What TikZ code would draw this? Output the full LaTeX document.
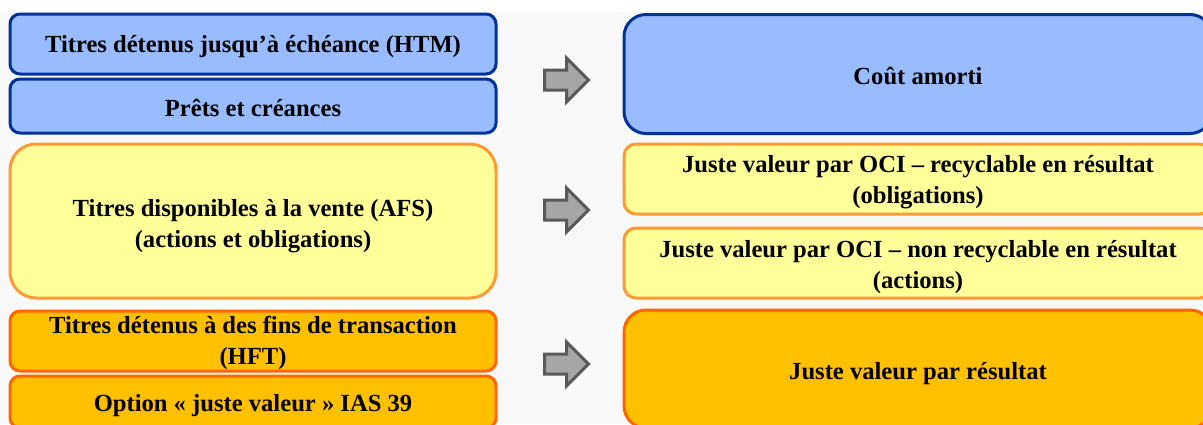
\documentclass[tikz,border=0pt]{standalone}
\usepackage{fontspec}
\setmainfont{Liberation Serif}
\usetikzlibrary{shapes.arrows}
\definecolor{bgc}{RGB}{248,248,248}
\definecolor{bluefill}{RGB}{153,187,255}
\definecolor{blueline}{RGB}{0,51,153}
\definecolor{yelfill}{RGB}{255,255,153}
\definecolor{yelline}{RGB}{255,153,51}
\definecolor{orafill}{RGB}{255,192,0}
\definecolor{oraline}{RGB}{255,102,0}
\definecolor{arrfill}{RGB}{166,166,166}
\definecolor{arrline}{RGB}{89,89,89}
\tikzset{
  box/.style={draw, line width=3pt, inner sep=0pt},
  bluebox/.style={box, fill=bluefill, draw=blueline},
  yelbox/.style={box, fill=yelfill, draw=yelline},
  orabox/.style={box, fill=orafill, draw=oraline},
  txt/.style={inner sep=0pt, align=center,
    font=\fontsize{24.6}{31.5}\selectfont\bfseries},
  bigarrow/.style={single arrow, draw=arrline, fill=arrfill, line width=3pt,
    minimum height=44pt, inner xsep=0pt, inner ysep=8.5pt,
    single arrow head extend=12pt}
}
\begin{document}
\begin{tikzpicture}[x=1pt,y=-1pt]
\useasboundingbox (0,0) rectangle (1203,424);
\clip (0,0) rectangle (1203,424);
\fill[white] (0,0) rectangle (1203,12);
\fill[bgc] (0,12) rectangle (1203,424);
% left column
\node[bluebox, minimum width=486pt, minimum height=60pt, rounded corners=10pt] (htm) at (253,44) {};
\node[txt] (htm-t) at ([yshift=-3pt]htm.center) {Titres détenus jusqu’à échéance (HTM)};
\node[bluebox, minimum width=486pt, minimum height=54pt, rounded corners=10pt] (prets) at (253,106) {};
\node[txt] (prets-t) at ([yshift=-2pt]prets.center) {Prêts et créances};
\node[yelbox, minimum width=486pt, minimum height=154pt, rounded corners=26pt] (afs) at (253,221) {};
\node[txt] (afs-t) at ([yshift=-5pt]afs.center) {Titres disponibles à la vente (AFS)\\(actions et obligations)};
\node[orabox, minimum width=486pt, minimum height=60pt, rounded corners=10pt] (hft) at (253,341) {};
\node[txt] (hft-t) at ([yshift=-2pt]hft.center) {Titres détenus à des fins de transaction\\(HFT)};
\node[orabox, minimum width=486pt, minimum height=52pt, rounded corners=10pt] (opt) at (253,402) {};
\node[txt] (opt-t) at ([yshift=-4pt]opt.center) {Option « juste valeur » IAS 39};
% right column
\node[bluebox, minimum width=588pt, minimum height=119pt, rounded corners=22pt] (cout) at (918,74) {};
\node[txt] (cout-t) at ([yshift=-2pt]cout.center) {Coût amorti};
\node[yelbox, minimum width=588pt, minimum height=70pt, rounded corners=12pt] (oci1) at (918,179) {};
\node[txt] (oci1-t) at ([yshift=-3pt]oci1.center) {Juste valeur par OCI – recyclable en résultat\\(obligations)};
\node[yelbox, minimum width=588pt, minimum height=70pt, rounded corners=12pt] (oci2) at (918,263) {};
\node[txt] (oci2-t) at ([yshift=-4pt]oci2.center) {Juste valeur par OCI – non recyclable en résultat\\(actions)};
\node[orabox, minimum width=588pt, minimum height=118pt, rounded corners=22pt] (jvr) at (918,369) {};
\node[txt] (jvr-t) at ([yshift=-5pt]jvr.center) {Juste valeur par résultat};
% arrows
\node[bigarrow] (a1) at (561.5,80) {};
\node[bigarrow] (a2) at (561.5,210) {};
\node[bigarrow] (a3) at (561.5,364) {};
\end{tikzpicture}
\end{document}
